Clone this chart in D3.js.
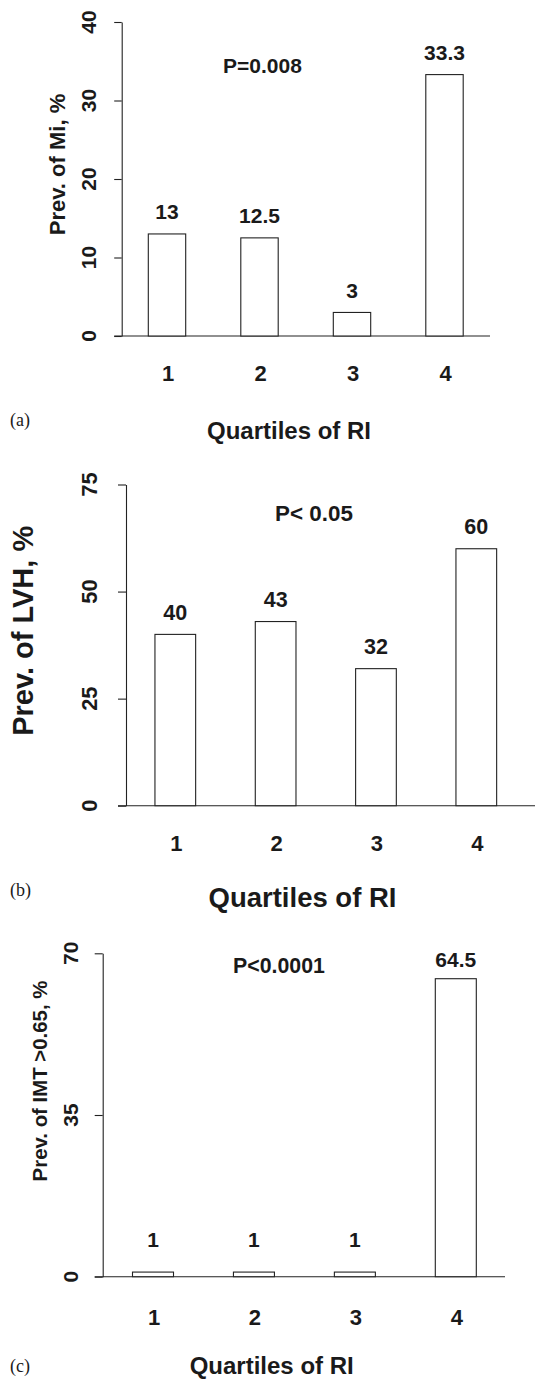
<!DOCTYPE html>
<html>
<head>
<meta charset="utf-8">
<script src="https://cdn.jsdelivr.net/npm/d3@7"></script>
<style>
  html, body { margin: 0; padding: 0; background: #fff; }
  svg { display: block; }
  text { font-family: "Liberation Sans", Arial, Helvetica, sans-serif; font-weight: bold; fill: #1a1a1a; }
  .panel-tag { font-family: "Liberation Serif", "Times New Roman", serif; font-weight: normal; }
</style>
</head>
<body>
<svg id="chart" width="539" height="1380"></svg>
<script>
// ---------- data ----------
const categories = ["1", "2", "3", "4"];

const miValues  = [13, 12.5, 3, 33.3];
const miLabels  = ["13", "12.5", "3", "33.3"];
const miTicks   = [0, 10, 20, 30, 40];

const lvhValues = [40, 43, 32, 60];
const lvhLabels = ["40", "43", "32", "60"];
const lvhTicks  = [0, 25, 50, 75];

const imtValues = [1, 1, 1, 64.5];
const imtLabels = ["1", "1", "1", "64.5"];
const imtTicks  = [0, 35, 70];

const yTitles = ["Prev. of Mi, %", "Prev. of LVH, %", "Prev. of IMT >0.65, %"];
const pTexts  = ["P=0.008", "P< 0.05", "P<0.0001"];
const xTitle  = "Quartiles of RI";
const panelTags = ["(a)", "(b)", "(c)"];

// ---------- layout (per panel) ----------
const panels = [
  { values: miValues, labels: miLabels, ticks: miTicks, yMax: 40, yTitle: yTitles[0], pText: pTexts[0], tag: panelTags[0],
    y0: 336, y1: 22, axisX: 121.7, tickLen: 7.5, baseEnd: 490,
    c0: 167, c1: 444.5, barW: 37.4,
    tickLabX: 88, tickFs: 21,
    yTitleX: 56.7, yTitleY: 164.5, yTitleFs: 22,
    pX: 262.5, pY: 65, pFs: 21,
    valOff: 22.3, valFs: 21, minLabV: 0,
    xLabY: 373, xLabFs: 22,
    xTitleX: 289, xTitleY: 430, xTitleFs: 24,
    tagY: 420 },
  { values: lvhValues, labels: lvhLabels, ticks: lvhTicks, yMax: 75, yTitle: yTitles[1], pText: pTexts[1], tag: panelTags[1],
    y0: 805.7, y1: 484.5, axisX: 126, tickLen: 8, baseEnd: 535,
    c0: 175.3, c1: 476.3, barW: 40.7,
    tickLabX: 89, tickFs: 22,
    yTitleX: 22.5, yTitleY: 630.8, yTitleFs: 29,
    pX: 314, pY: 513.3, pFs: 22.4,
    valOff: 22.5, valFs: 21.5, minLabV: 0,
    xLabY: 843.3, xLabFs: 22,
    xTitleX: 302.5, xTitleY: 896.7, xTitleFs: 27.5,
    tagY: 890 },
  { values: imtValues, labels: imtLabels, ticks: imtTicks, yMax: 70, yTitle: yTitles[2], pText: pTexts[2], tag: panelTags[2],
    y0: 1276.7, y1: 953.3, axisX: 102.7, tickLen: 8, baseEnd: 505,
    c0: 153, c1: 455.8, barW: 41,
    tickLabX: 70, tickFs: 21,
    yTitleX: 40, yTitleY: 1081, yTitleFs: 20.4,
    pX: 279, pY: 965, pFs: 21.3,
    valOff: 19, valFs: 21, minLabV: 4,
    xLabY: 1316.7, xLabFs: 22,
    xTitleX: 271.7, xTitleY: 1365.5, xTitleFs: 24,
    tagY: 1365.5 }
];

const svg = d3.select("#chart");
const ink = "#222";

panels.forEach(p => {
  const g = svg.append("g");
  const y = d3.scaleLinear().domain([0, p.yMax]).range([p.y0, p.y1]);
  const x = d3.scalePoint().domain(categories).range([p.c0, p.c1]);

  // y axis
  const axis = d3.axisLeft(y).tickValues(p.ticks).tickSize(p.tickLen).tickSizeOuter(0).tickFormat(d3.format("d"));
  const ag = g.append("g").attr("transform", `translate(${p.axisX},0)`).call(axis);
  ag.selectAll("path.domain").attr("stroke", ink).attr("stroke-width", 1.1);
  ag.selectAll(".tick line").attr("stroke", ink).attr("stroke-width", 1.1);
  ag.selectAll(".tick text").remove();

  // rotated tick labels
  g.selectAll("text.ytick").data(p.ticks).join("text")
    .attr("class", "ytick")
    .attr("text-anchor", "middle")
    .attr("font-size", p.tickFs)
    .attr("transform", d => `translate(${p.tickLabX + 0.358 * p.tickFs},${y(d)}) rotate(-90)`)
    .text(d => d3.format("d")(d));

  // baseline
  g.append("line")
    .attr("x1", p.axisX - p.tickLen).attr("x2", p.baseEnd)
    .attr("y1", y(0)).attr("y2", y(0))
    .attr("stroke", ink).attr("stroke-width", 1.1);

  // bars
  g.selectAll("rect.bar").data(p.values).join("rect")
    .attr("class", "bar")
    .attr("x", (d, i) => x(categories[i]) - p.barW / 2)
    .attr("width", p.barW)
    .attr("y", d => y(d))
    .attr("height", d => y(0) - y(d))
    .attr("fill", "#fff")
    .attr("stroke", ink)
    .attr("stroke-width", 1.1);

  // value labels
  g.selectAll("text.val").data(p.values).join("text")
    .attr("class", "val")
    .attr("text-anchor", "middle")
    .attr("font-size", p.valFs)
    .attr("x", (d, i) => x(categories[i]))
    .attr("y", d => y(Math.max(d, p.minLabV)) - p.valOff + 0.358 * p.valFs)
    .text((d, i) => p.labels[i]);

  // x category labels
  g.selectAll("text.xlab").data(categories).join("text")
    .attr("class", "xlab")
    .attr("text-anchor", "middle")
    .attr("font-size", p.xLabFs)
    .attr("x", d => x(d) + 1)
    .attr("y", p.xLabY + 0.358 * p.xLabFs)
    .text(d => d);

  // y title
  g.append("text")
    .attr("text-anchor", "middle")
    .attr("font-size", p.yTitleFs)
    .attr("transform", `translate(${p.yTitleX + 0.358 * p.yTitleFs},${p.yTitleY}) rotate(-90)`)
    .text(p.yTitle);

  // p value
  g.append("text")
    .attr("text-anchor", "middle")
    .attr("font-size", p.pFs)
    .attr("x", p.pX).attr("y", p.pY + 0.358 * p.pFs)
    .text(p.pText);

  // x title
  g.append("text")
    .attr("text-anchor", "middle")
    .attr("font-size", p.xTitleFs)
    .attr("x", p.xTitleX).attr("y", p.xTitleY + 0.358 * p.xTitleFs)
    .text(xTitle);

  // panel tag
  g.append("text")
    .attr("class", "panel-tag")
    .attr("font-size", 18)
    .attr("x", 10).attr("y", p.tagY + 6)
    .text(p.tag);
});
</script>
</body>
</html>
